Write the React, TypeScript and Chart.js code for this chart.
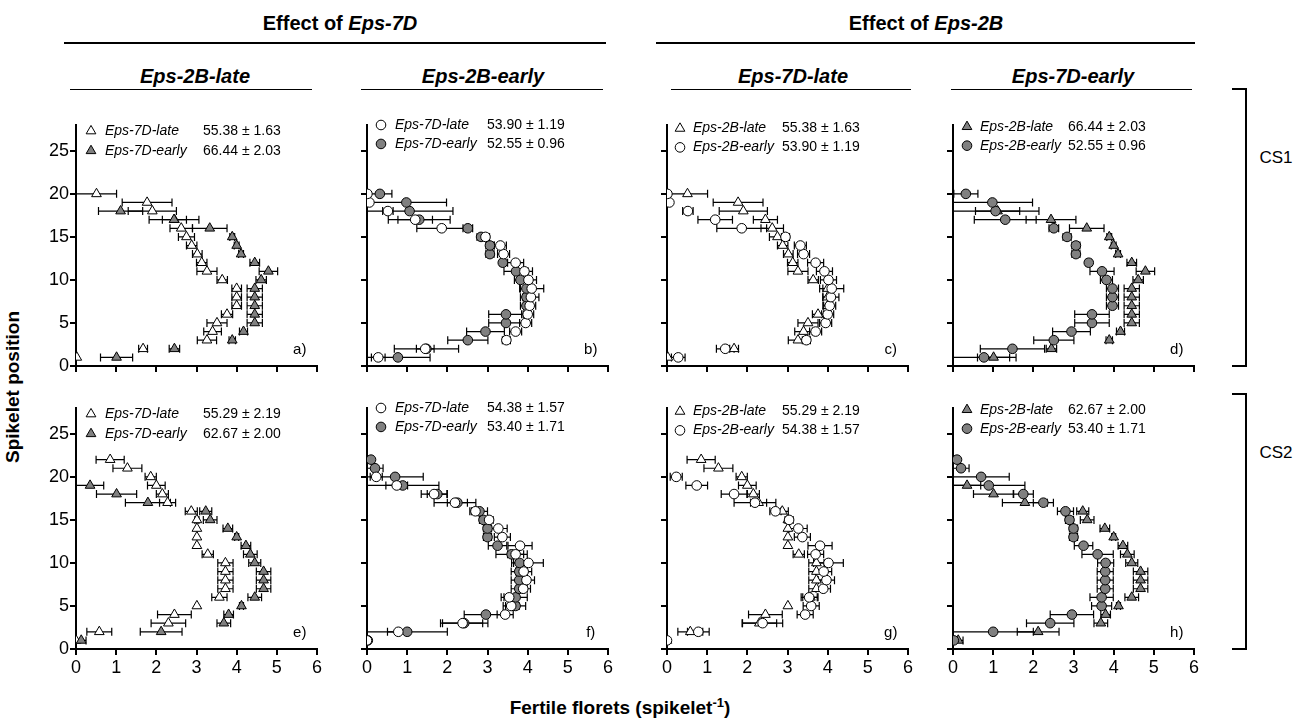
import React, { useEffect, useRef } from "react";
import { Chart, registerables } from "chart.js";

Chart.register(...registerables);

const FONT = "'Liberation Sans', Arial, Helvetica, sans-serif";
Chart.defaults.font.family = FONT;

// Spikelet positions (y categories)
const spikeletPositions = [1, 2, 3, 4, 5, 6, 7, 8, 9, 10, 11, 12, 13, 14, 15, 16, 17, 18, 19, 20, 21, 22];
const xTickValues = [0, 1, 2, 3, 4, 5, 6];
const yTickValues = [0, 5, 10, 15, 20, 25];

// ---- CS1 (top row) : fertile florets per spikelet, position 1 upwards ----
const cs1LateLate = [0.02, 1.67, 3.26, 3.4, 3.51, 3.76, 4.0, 4.0, 4.0, 3.64, 3.26, 3.13, 3.02, 2.88, 2.75, 2.62, 2.45, 1.9, 1.77, 0.51];
const cs1LateLateErr = [0, 0.11, 0.24, 0.22, 0.25, 0.14, 0.12, 0.12, 0.12, 0.13, 0.25, 0.13, 0.12, 0.13, 0.2, 0.28, 0.3, 0.6, 0.62, 0.5];
const cs1LateEarly = [1.01, 2.45, 3.89, 4.17, 4.45, 4.45, 4.45, 4.45, 4.45, 4.61, 4.79, 4.45, 4.11, 4.0, 3.89, 3.33, 2.44, 1.11];
const cs1LateEarlyErr = [0.4, 0.13, 0.08, 0.1, 0.19, 0.19, 0.19, 0.19, 0.19, 0.13, 0.23, 0.12, 0.06, 0.06, 0.06, 0.43, 0.62, 0.55];
const cs1EarlyLate = [0.28, 1.45, 3.47, 3.7, 3.95, 4.0, 4.05, 4.08, 4.1, 4.02, 3.92, 3.7, 3.4, 3.32, 2.95, 1.86, 1.2, 0.52, 0.06, 0.01];
const cs1EarlyLateErr = [0.17, 0.22, 0.1, 0.15, 0.15, 0.15, 0.15, 0.2, 0.3, 0.2, 0.2, 0.2, 0.15, 0.15, 0.1, 0.62, 0.43, 0.13, 0, 0.05];
const cs1EarlyEarly = [0.77, 1.48, 2.51, 2.95, 3.46, 3.46, 3.97, 3.97, 3.97, 3.82, 3.71, 3.38, 3.06, 3.06, 2.84, 2.51, 1.3, 1.06, 0.98, 0.32];
const cs1EarlyEarlyErr = [0.8, 0.8, 0.5, 0.47, 0.43, 0.43, 0.15, 0.15, 0.15, 0.15, 0.3, 0.07, 0.1, 0.1, 0.1, 0.12, 0.77, 1.08, 1.0, 0.3];

// ---- CS2 (bottom row) ----
const cs2LateLate = [0.0, 0.58, 2.3, 2.45, 3.01, 3.57, 3.72, 3.72, 3.72, 3.72, 3.28, 3.01, 3.01, 3.01, 3.01, 2.87, 2.28, 2.15, 2.0, 1.86, 1.28, 0.85];
const cs2LateLateErr = [0, 0.31, 0.43, 0.42, 0, 0.19, 0.19, 0.19, 0.19, 0.19, 0.14, 0, 0, 0, 0.05, 0.15, 0.2, 0.15, 0.22, 0.14, 0.36, 0.35];
const cs2LateEarly = [0.13, 2.12, 3.68, 3.8, 4.12, 4.45, 4.67, 4.67, 4.67, 4.45, 4.34, 4.23, 4.0, 3.78, 3.34, 3.23, 1.79, 1.01, 0.35];
const cs2LateEarlyErr = [0.12, 0.52, 0.17, 0.12, 0.05, 0.17, 0.18, 0.18, 0.18, 0.15, 0.17, 0.12, 0.05, 0.12, 0.17, 0.15, 0.56, 0.5, 0.34];
const cs2EarlyLate = [0.0, 0.78, 2.38, 3.44, 3.59, 3.54, 3.89, 3.97, 3.9, 4.02, 3.7, 3.81, 3.37, 3.27, 3.04, 2.7, 2.19, 1.67, 0.74, 0.23];
const cs2EarlyLateErr = [0, 0.27, 0.5, 0.2, 0.2, 0.2, 0.18, 0.2, 0.2, 0.37, 0.2, 0.3, 0.2, 0.22, 0.1, 0.14, 0.52, 0.32, 0.27, 0.15];
const cs2EarlyEarly = [0.02, 1.0, 2.42, 2.96, 3.7, 3.7, 3.79, 3.79, 3.79, 3.8, 3.6, 3.25, 3.0, 3.0, 2.9, 2.8, 2.25, 1.75, 0.89, 0.7, 0.2, 0.1];
const cs2EarlyEarlyErr = [0, 1.0, 0.59, 0.54, 0.25, 0.29, 0.2, 0.2, 0.2, 0.2, 0.39, 0.23, 0.1, 0.1, 0.1, 0.2, 0.25, 0.25, 0.9, 0.7, 0.2, 0];

// Total fertile florets (legend values)
const cs1Totals = { LL: "55.38 \u00b1 1.63", LE: "66.44 \u00b1 2.03", EL: "53.90 \u00b1 1.19", EE: "52.55 \u00b1 0.96" };
const cs2Totals = { LL: "55.29 \u00b1 2.19", LE: "62.67 \u00b1 2.00", EL: "54.38 \u00b1 1.57", EE: "53.40 \u00b1 1.71" };

const GREY = "#808080";

type Key = "LL" | "LE" | "EL" | "EE";
const markerStyle: Record<Key, { shape: "triangle" | "circle"; fill: string }> = {
  LL: { shape: "triangle", fill: "#ffffff" },
  LE: { shape: "triangle", fill: GREY },
  EL: { shape: "circle", fill: "#ffffff" },
  EE: { shape: "circle", fill: GREY },
};

const rows = [
  {
    values: { LL: cs1LateLate, LE: cs1LateEarly, EL: cs1EarlyLate, EE: cs1EarlyEarly },
    errors: { LL: cs1LateLateErr, LE: cs1LateEarlyErr, EL: cs1EarlyLateErr, EE: cs1EarlyEarlyErr },
    totals: cs1Totals,
  },
  {
    values: { LL: cs2LateLate, LE: cs2LateEarly, EL: cs2EarlyLate, EE: cs2EarlyEarly },
    errors: { LL: cs2LateLateErr, LE: cs2LateEarlyErr, EL: cs2EarlyLateErr, EE: cs2EarlyEarlyErr },
    totals: cs2Totals,
  },
];

// series per column: [legend first line, legend second line], top = drawn on top
const columns: {
  keys: Key[];
  labels: string[];
  top: Key;
  markerOffset: number;
  textOffset: number;
  valueOffset: number;
  legendLevels: number[];
}[] = [
  { keys: ["LL", "LE"], labels: ["Eps-7D-late", "Eps-7D-early"], top: "LE", markerOffset: 15, textOffset: 29, valueOffset: 127, legendLevels: [27.3, 25.0] },
  { keys: ["EL", "EE"], labels: ["Eps-7D-late", "Eps-7D-early"], top: "EL", markerOffset: 14, textOffset: 28, valueOffset: 120, legendLevels: [28.0, 25.8] },
  { keys: ["LL", "EL"], labels: ["Eps-2B-late", "Eps-2B-early"], top: "EL", markerOffset: 13, textOffset: 26, valueOffset: 115, legendLevels: [27.6, 25.4] },
  { keys: ["LE", "EE"], labels: ["Eps-2B-late", "Eps-2B-early"], top: "EE", markerOffset: 14, textOffset: 27, valueOffset: 115, legendLevels: [27.8, 25.6] },
];
const panelLetters = [["a)", "b)", "c)", "d)"], ["e)", "f)", "g)", "h)"]];

// layout
const PLOT_X = [76, 367, 667, 953];
const PLOT_TOP = [125, 408];
const PLOT_W = 241;
const PLOT_H = 241;
const AX_W = 40;
const PAD_T = 14;
const PAD_R = 15;
const XAX_H = 34;

function drawMarker(ctx: CanvasRenderingContext2D, shape: string, fill: string, x: number, y: number) {
  ctx.save();
  ctx.beginPath();
  if (shape === "triangle") {
    const r = 5.6;
    ctx.moveTo(x, y - r);
    ctx.lineTo(x + 0.866 * r, y + 0.5 * r);
    ctx.lineTo(x - 0.866 * r, y + 0.5 * r);
    ctx.closePath();
  } else {
    ctx.arc(x, y, 4.8, 0, Math.PI * 2);
  }
  ctx.fillStyle = fill;
  ctx.fill();
  ctx.lineWidth = 1;
  ctx.strokeStyle = "#000";
  ctx.stroke();
  ctx.restore();
}

const errorBarPlugin = {
  id: "hErrorBars",
  beforeDatasetsDraw(chart: any) {
    const { ctx, scales } = chart;
    const xs = scales.x;
    const ys = scales.y;
    ctx.save();
    ctx.strokeStyle = "#000";
    ctx.lineWidth = 1.2;
    chart.data.datasets.forEach((ds: any) => {
      const errs: number[] = ds.errors || [];
      ds.data.forEach((p: any, i: number) => {
        const e = errs[i];
        if (!e) return;
        const lo = Math.max(0, p.x - e);
        const hi = p.x + e;
        const x1 = xs.getPixelForValue(lo);
        const x2 = xs.getPixelForValue(hi);
        const py = ys.getPixelForValue(p.y);
        ctx.beginPath();
        ctx.moveTo(x1, py);
        ctx.lineTo(x2, py);
        ctx.moveTo(x1, py - 4);
        ctx.lineTo(x1, py + 4);
        ctx.moveTo(x2, py - 4);
        ctx.lineTo(x2, py + 4);
        ctx.stroke();
      });
    });
    ctx.restore();
  },
};

function Panel({ row, col }: { row: number; col: number }) {
  const ref = useRef<HTMLCanvasElement>(null);
  const W = AX_W + PLOT_W + PAD_R;
  const H = PAD_T + PLOT_H + XAX_H;
  const left = PLOT_X[col] - AX_W;
  const top = PLOT_TOP[row] - PAD_T;

  useEffect(() => {
    const r = rows[row];
    const c = columns[col];
    const showYLabels = col === 0;
    const showXLabels = row === 1;
    const datasets = c.keys.map((k) => {
      const vals = (r.values as any)[k] as number[];
      const errs = (r.errors as any)[k] as number[];
      const st = markerStyle[k];
      return {
        label: k,
        data: vals.map((v, i) => ({ x: v, y: spikeletPositions[i] })),
        errors: errs,
        pointStyle: st.shape,
        pointRadius: st.shape === "triangle" ? 5.6 : 4.8,
        pointBackgroundColor: st.fill,
        pointBorderColor: "#000",
        pointBorderWidth: 1,
        backgroundColor: st.fill,
        borderColor: "#000",
        showLine: false,
        order: k === c.top ? 0 : 1,
      } as any;
    });

    const annotationPlugin = {
      id: "panelAnnotations",
      afterDraw(chart: any) {
        const { ctx, scales, chartArea } = chart;
        const xs = scales.x;
        const ys = scales.y;
        ctx.save();
        c.keys.forEach((k, i) => {
          const py = ys.getPixelForValue(c.legendLevels[i]);
          const st = markerStyle[k];
          drawMarker(ctx, st.shape, st.fill, chartArea.left + c.markerOffset, py);
          ctx.fillStyle = "#000";
          ctx.textBaseline = "middle";
          ctx.textAlign = "left";
          ctx.font = `italic 14px ${FONT}`;
          ctx.fillText(c.labels[i], chartArea.left + c.textOffset, py);
          ctx.font = `14px ${FONT}`;
          ctx.fillText((r.totals as any)[k], chartArea.left + c.valueOffset, py);
        });
        ctx.font = `15px ${FONT}`;
        ctx.textAlign = "center";
        ctx.textBaseline = "middle";
        ctx.fillText(panelLetters[row][col], xs.getPixelForValue(5.57), ys.getPixelForValue(1.9));
        ctx.restore();
      },
    };

    const chart = new Chart(ref.current as HTMLCanvasElement, {
      type: "scatter",
      data: { datasets },
      options: {
        responsive: false,
        animation: false,
        events: [],
        layout: { padding: { top: PAD_T, right: PAD_R, left: 0, bottom: 0 } },
        plugins: { legend: { display: false }, tooltip: { enabled: false } },
        scales: {
          x: {
            type: "linear",
            min: xTickValues[0],
            max: xTickValues[xTickValues.length - 1],
            afterFit: (s: any) => {
              s.height = XAX_H;
            },
            afterBuildTicks: (s: any) => {
              s.ticks = xTickValues.map((v) => ({ value: v }));
            },
            ticks: {
              stepSize: 1,
              includeBounds: false,
              color: showXLabels ? "#000" : "rgba(0,0,0,0)",
              font: { size: 18, family: FONT },
              padding: 2,
              maxRotation: 0,
            },
            grid: { display: true, drawOnChartArea: false, drawTicks: true, tickLength: 6, color: "#000", lineWidth: 2 },
            border: { display: true, color: "#000", width: 2 },
          },
          y: {
            type: "linear",
            min: 0,
            max: 28,
            afterFit: (s: any) => {
              s.width = AX_W;
            },
            afterBuildTicks: (s: any) => {
              s.ticks = yTickValues.map((v) => ({ value: v }));
            },
            ticks: {
              stepSize: 5,
              includeBounds: false,
              color: showYLabels ? "#000" : "rgba(0,0,0,0)",
              font: { size: 18, family: FONT },
              padding: 1,
            },
            grid: { display: true, drawOnChartArea: false, drawTicks: true, tickLength: 6, color: "#000", lineWidth: 2 },
            border: { display: true, color: "#000", width: 2 },
          },
        },
      },
      plugins: [errorBarPlugin, annotationPlugin],
    } as any);
    return () => chart.destroy();
  }, [row, col]);

  return (
    <canvas
      ref={ref}
      width={W}
      height={H}
      style={{ position: "absolute", left, top, width: W, height: H }}
    />
  );
}

const headerStyle = (x: number, y: number, size: number, extra: any = {}) => ({
  position: "absolute" as const,
  left: x,
  top: y - size * 0.6,
  transform: "translateX(-50%)",
  fontSize: size,
  lineHeight: `${size * 1.2}px`,
  whiteSpace: "nowrap" as const,
  fontFamily: FONT,
  color: "#000",
  ...extra,
});

const hLine = (x1: number, x2: number, y: number, t: number) => (
  <div style={{ position: "absolute", left: x1, top: y - t / 2, width: x2 - x1, height: t, background: "#000" }} />
);
const vLine = (x: number, y1: number, y2: number, t: number) => (
  <div style={{ position: "absolute", left: x - t / 2, top: y1, width: t, height: y2 - y1, background: "#000" }} />
);

const subtitles = ["Eps-2B-late", "Eps-2B-early", "Eps-7D-late", "Eps-7D-early"];
const subtitleCenters = [195, 483, 793, 1073];
const subtitleLines = [
  [70, 312],
  [361, 603],
  [671, 911],
  [951, 1192],
];

const BRACKET_X = 1246;

export default function App() {
  return (
    <div
      style={{
        position: "absolute",
        left: 0,
        top: 0,
        width: 1307,
        height: 720,
        background: "#fff",
        overflow: "hidden",
        fontFamily: FONT,
      }}
    >
      {/* group headers */}
      <div style={headerStyle(340, 23, 20, { fontWeight: "bold" })}>
        Effect of <i>Eps-7D</i>
      </div>
      {hLine(64, 606, 43, 2)}
      <div style={headerStyle(926, 23, 20, { fontWeight: "bold" })}>
        Effect of <i>Eps-2B</i>
      </div>
      {hLine(656, 1195, 43, 2)}

      {/* column subtitles */}
      {subtitles.map((s, i) => (
        <React.Fragment key={s}>
          <div style={headerStyle(subtitleCenters[i], 76, 20, { fontWeight: "bold", fontStyle: "italic" })}>{s}</div>
          {hLine(subtitleLines[i][0], subtitleLines[i][1], 89, 1)}
        </React.Fragment>
      ))}

      {/* panels */}
      {[0, 1].map((r) => [0, 1, 2, 3].map((c) => <Panel key={`${r}-${c}`} row={r} col={c} />))}

      {/* CS brackets */}
      {vLine(BRACKET_X, 89, 366, 1.5)}
      {hLine(BRACKET_X - 14, BRACKET_X + 0.75, 89, 1.5)}
      {hLine(BRACKET_X - 14, BRACKET_X + 0.75, 366, 1.5)}
      <div style={headerStyle(1276, 158, 17)}>CS1</div>
      {vLine(BRACKET_X, 394, 649, 1.5)}
      {hLine(BRACKET_X - 14, BRACKET_X + 0.75, 394, 1.5)}
      {hLine(BRACKET_X - 14, BRACKET_X + 0.75, 649, 1.5)}
      <div style={headerStyle(1276, 453, 17)}>CS2</div>

      {/* axis titles */}
      <div
        style={{
          position: "absolute",
          left: 13,
          top: 387,
          transform: "translate(-50%, -50%) rotate(-90deg)",
          fontSize: 19,
          fontWeight: "bold",
          whiteSpace: "nowrap",
          fontFamily: FONT,
        }}
      >
        Spikelet position
      </div>
      <div style={headerStyle(620, 708, 19, { fontWeight: "bold" })}>
        Fertile florets (spikelet<sup style={{ fontSize: 13, lineHeight: 0 }}>-1</sup>)
      </div>
    </div>
  );
}
